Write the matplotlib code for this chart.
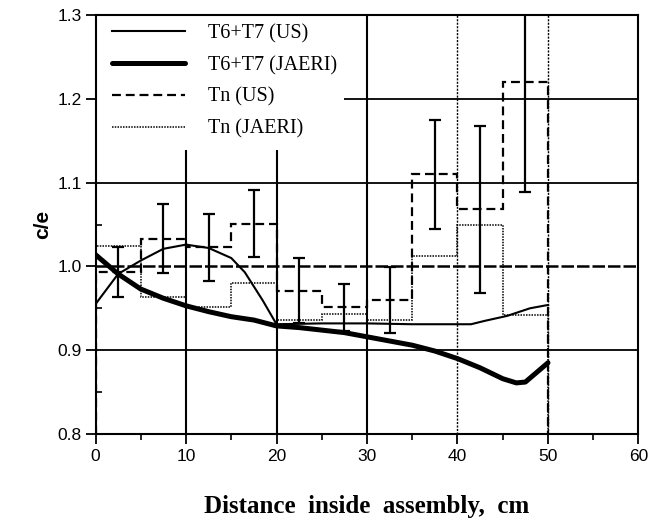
import matplotlib
matplotlib.use("Agg")
import matplotlib.pyplot as plt
from matplotlib.patches import Rectangle

# Bin edges and centres of the Tn comparison (cm)
bin_edges = [0, 5, 10, 15, 20, 25, 30, 35, 40, 45, 50]
bin_centers = [2.5, 7.5, 12.5, 17.5, 22.5, 27.5, 32.5, 37.5, 42.5, 47.5]

# Tn c/e per bin
tn_us = [0.993, 1.033, 1.023, 1.051, 0.971, 0.951, 0.960, 1.110, 1.068, 1.220]
tn_us_err = [0.030, 0.041, 0.040, 0.040, 0.039, 0.028, 0.039, 0.065, 0.100, 0.131]
tn_jaeri = [1.024, 0.963, 0.951, 0.980, 0.936, 0.943, 0.936, 1.013, 1.050, 0.942]

# T6+T7 c/e profiles
t67_us_x = [0, 2.5, 5, 7.5, 10, 12.5, 15, 16.5, 17.5, 18.5, 20, 25, 30, 35, 40,
            41.5, 43, 45.5, 48, 50]
t67_us_y = [0.955, 0.991, 1.007, 1.021, 1.026, 1.022, 1.010, 0.993, 0.976, 0.959,
            0.931, 0.932, 0.932, 0.931, 0.931, 0.931, 0.935, 0.941, 0.950, 0.954]
t67_jaeri_x = [0, 2.5, 5, 7.5, 10, 12.5, 15, 17.5, 20, 22.5, 25, 27.5, 30, 32.5,
               35, 37.5, 40, 42.5, 45, 46.5, 47.5, 50]
t67_jaeri_y = [1.014, 0.991, 0.973, 0.962, 0.953, 0.946, 0.940, 0.936, 0.929, 0.927,
               0.924, 0.921, 0.916, 0.911, 0.906, 0.899, 0.890, 0.879, 0.866, 0.861,
               0.862, 0.885]

x_ticks = [0, 10, 20, 30, 40, 50, 60]
x_minor = [5, 15, 25, 35, 45, 55]
y_ticks = [0.8, 0.9, 1.0, 1.1, 1.2, 1.3]
y_tick_labels = ["0.8", "0.9", "1.0", "1.1", "1.2", "1.3"]
y_minor = [0.85, 0.95, 1.05, 1.15, 1.25]

fig = plt.figure(figsize=(6.48, 5.30), dpi=100)
ax = fig.add_axes([0.1474, 0.1811, 0.8379, 0.7906])
ax.set_xlim(0, 60)
ax.set_ylim(0.8, 1.3)

# grid
for x in [10, 20, 30]:
    ax.axvline(x, color="black", lw=1.5, zorder=1)
for x in [40, 50]:
    ax.axvline(x, color="black", lw=1.0, ls=(0, (1.5, 1)), zorder=1)
for y in [0.9, 1.1, 1.2]:
    ax.axhline(y, color="black", lw=1.3, zorder=1)
ax.axhline(1.0, color="black", lw=1.8, ls=(0, (5, 1.2)), zorder=1)

# white backing behind the key
ax.add_patch(Rectangle((0, 0.678), 0.457, 0.322, transform=ax.transAxes,
                       facecolor="white", edgecolor="none", zorder=2))

ax.plot(t67_us_x, t67_us_y, color="black", lw=1.5, zorder=3, label="T6+T7 (US)")
ax.plot(t67_jaeri_x, t67_jaeri_y, color="black", lw=3.6, zorder=3,
        solid_capstyle="round", label="T6+T7 (JAERI)")
ax.stairs(tn_us, bin_edges, color="black", lw=1.6, ls=(0, (4, 2.2)), zorder=3,
          label="Tn (US)")
ax.stairs(tn_jaeri, bin_edges, color="black", lw=1.1, ls=(0, (1, 0.8)), zorder=3,
          label="Tn (JAERI)")
ax.errorbar(bin_centers, tn_us, yerr=tn_us_err, fmt="none", ecolor="black",
            elinewidth=1.6, capsize=4, capthick=1.6, zorder=3)

leg = ax.legend(loc="upper left", bbox_to_anchor=(0.030, 0.978), borderaxespad=0,
                borderpad=0, frameon=False, handlelength=3.65, handletextpad=1.15,
                labelspacing=0.62,
                prop={"family": "Liberation Serif", "size": 14.5})
leg.set_zorder(4)

ax.set_xticks(x_ticks)
ax.set_xticks(x_minor, minor=True)
ax.set_yticks(y_ticks)
ax.set_yticklabels(y_tick_labels)
ax.set_yticks(y_minor, minor=True)
ax.tick_params(axis="x", which="major", direction="out", length=7, width=1.3, pad=4)
ax.tick_params(axis="x", which="minor", direction="out", length=4, width=1.2)
ax.tick_params(axis="y", which="major", direction="out", length=7, width=1.3, pad=3)
ax.tick_params(axis="y", which="minor", direction="in", length=4, width=1.2)
for lab in ax.get_xticklabels() + ax.get_yticklabels():
    lab.set_family("Liberation Sans")
    lab.set_fontsize(12.5)

for s in ax.spines.values():
    s.set_linewidth(1.5)

ax.set_xlabel("Distance  inside  assembly,  cm", family="Liberation Serif",
              fontweight="bold", fontsize=18)
ax.xaxis.set_label_coords(0.5, -0.145)
ax.set_ylabel("c/e", family="Liberation Sans", fontweight="bold", fontsize=15)
ax.yaxis.set_label_coords(-0.08, 0.5)

fig.savefig("out.png", dpi=100)
